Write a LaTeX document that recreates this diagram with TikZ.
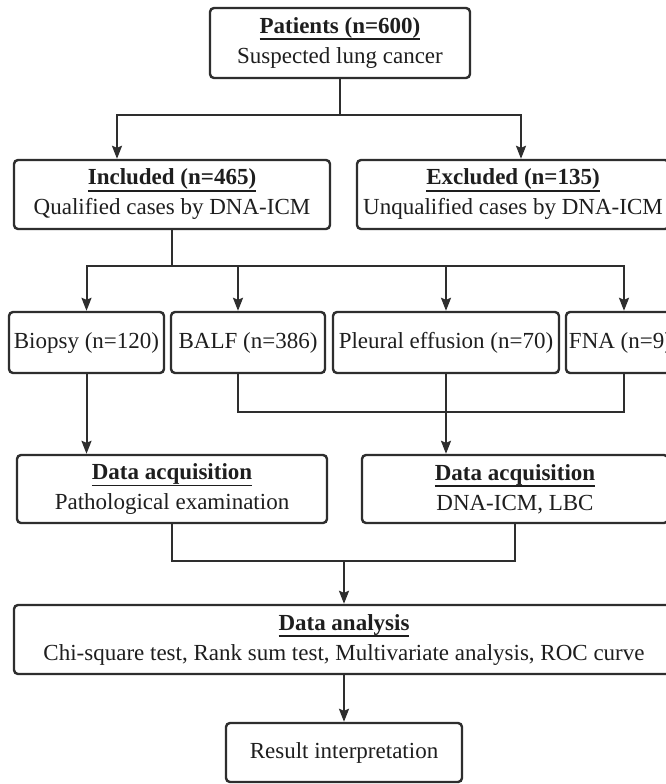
\documentclass[tikz,border=0pt]{standalone}
\usepackage{fontspec}
\setmainfont{Liberation Serif}
\usetikzlibrary{arrows.meta}
\definecolor{ink}{HTML}{1E1E1E}
\definecolor{edge}{HTML}{2E2E2E}
\tikzset{
  box/.style={draw=edge, line width=2.4pt, rounded corners=4pt, inner sep=0pt,
    align=center, text=ink, font=\fontsize{23}{30}\selectfont},
  link/.style={draw=edge, line width=2pt},
  arr/.style={link, -{Stealth[length=13pt,width=10pt,inset=2pt]}},
}
\newsavebox\hdbox
\newcommand{\hd}[1]{\sbox\hdbox{\textbf{#1}}\rlap{\rule[-6.8pt]{\wd\hdbox}{1.8pt}}\usebox\hdbox}
\newcommand{\bx}[6]{\node[box, minimum width={#4-#2}, minimum height={#5-#3}] (#1) at ({(#2+#4)/2},{(#3+#5)/2}) {#6};}
\begin{document}
\begin{tikzpicture}[x=1pt,y=-1pt]
\useasboundingbox (0,0) rectangle (666,784);
\clip (0,0) rectangle (666,784);
\fill[white] (0,0) rectangle (666,784);
\bx{top}{210}{8}{470}{78}{\hd{Patients (n=600)}\\Suspected lung cancer}
\bx{inc}{14}{160}{330}{229}{\hd{Included (n=465)}\\Qualified cases by DNA-ICM}
\bx{exc}{357}{160}{669}{229}{\hd{Excluded (n=135)}\\Unqualified cases by DNA-ICM}
\bx{bio}{9}{312}{164}{373}{Biopsy (n=120)}
\bx{balf}{171}{312}{325}{373}{BALF (n=386)}
\bx{ple}{333}{312}{559}{373}{Pleural effusion (n=70)}
\bx{fna}{566}{312}{675}{373}{FNA (n=9)}
\bx{dal}{17}{455}{327}{523}{\hd{Data acquisition}\\Pathological examination}
\bx{dar}{362}{455}{668}{523}{\hd{Data acquisition}\\DNA-ICM, LBC}
\bx{ana}{14}{605}{674}{674}{\hd{Data analysis}\\Chi-square test, Rank sum test, Multivariate analysis, ROC curve}
\bx{res}{226}{723}{462}{782}{Result interpretation}
% connectors
\coordinate (j1) at (340,115);
\coordinate (jl) at (117,115);
\coordinate (jr) at (521,115);
\draw[link] (top.south) -- (j1);
\draw[arr] (j1) -| (inc.north -| jl);
\draw[arr] (j1) -| (exc.north -| jr);
\coordinate (j2) at (172,266);
\coordinate (xbalf) at (238,266);
\coordinate (xfna) at (624,266);
\draw[link] (inc.south) -- (j2);
\draw[arr] (j2) -| (bio.north);
\draw[arr] (j2) -| (balf.north -| xbalf);
\draw[arr] (j2) -| (ple.north);
\draw[arr] (j2) -| (fna.north -| xfna);
\draw[arr] (bio.south) -- (bio.south |- dal.north);
\coordinate (j3l) at (238,412);
\coordinate (j3r) at (624,412);
\draw[link] (balf.south -| j3l) -- (j3l) -- (j3r) -- (fna.south -| j3r);
\draw[arr] (ple.south) -- (ple.south |- dar.north);
\coordinate (j4) at (344,561);
\draw[link] (dal.south) |- (j4) -| (dar.south);
\draw[arr] (j4) -- (ana.north);
\draw[arr] (ana.south) -- (res.north);
\end{tikzpicture}
\end{document}
